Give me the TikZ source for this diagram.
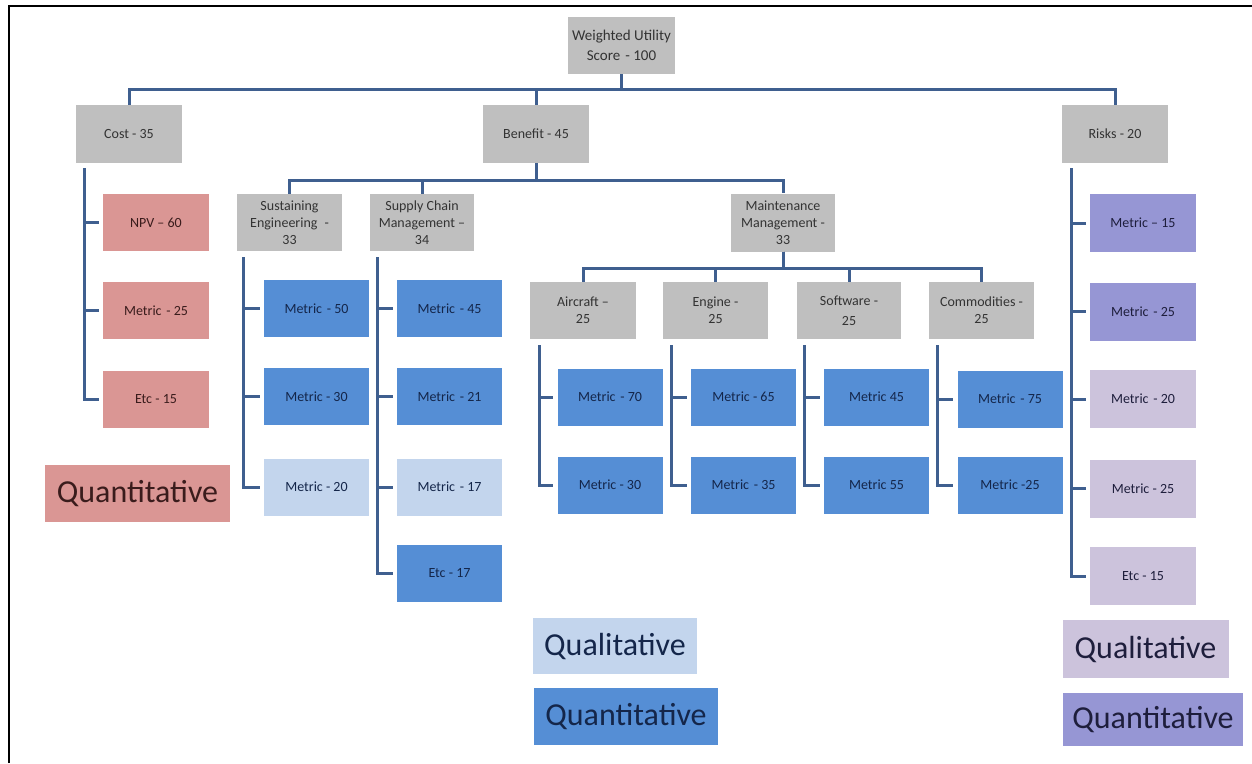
\documentclass[tikz,border=0pt]{standalone}
\usepackage{fontspec}
\setmainfont{Carlito}
\definecolor{boxgrey}{HTML}{BFBFBF}
\definecolor{greytext}{HTML}{333333}
\definecolor{costred}{HTML}{DA9694}
\definecolor{redtext}{HTML}{3A1C1C}
\definecolor{quantblue}{HTML}{558ED5}
\definecolor{qualblue}{HTML}{C3D5ED}
\definecolor{bluetext}{HTML}{14264A}
\definecolor{quantpurple}{HTML}{9696D4}
\definecolor{qualpurple}{HTML}{CCC3DC}
\definecolor{purpletext}{HTML}{1E1E3C}
\definecolor{linkblue}{HTML}{3F5F8F}
\begin{document}
\begin{tikzpicture}[x=1pt,y=-1pt,
  box/.style={inner sep=0pt, align=center, font=\fontsize{14}{17}\selectfont,
              minimum width=106pt, minimum height=57pt},
  grey/.style={box, fill=boxgrey, text=greytext},
  red/.style={box, fill=costred, text=redtext},
  qnb/.style={box, fill=quantblue, text=bluetext},
  qlb/.style={box, fill=qualblue, text=bluetext},
  qnp/.style={box, fill=quantpurple, text=purpletext},
  qlp/.style={box, fill=qualpurple, text=purpletext},
  legend/.style={font=\fontsize{32}{36}\selectfont, minimum height=57pt},
  link/.style={draw=linkblue, line width=3pt},
  tick/.style={link, shorten >=4pt},
]
\useasboundingbox[fill=white] (0,0) rectangle (1252,763);
% frame along the top and left edges
\draw[line width=2pt] (9,763) -- (9,5.5) -- (1252,5.5);

% root and first level
\node[grey, minimum width=107pt, font=\fontsize{15}{20}\selectfont] (top) at (621.5,45.5) {Weighted Utility\\Score\,\,- 100};
\node[grey, minimum height=58pt] (cost) at (129,134) {Cost - 35};
\node[grey, minimum height=58pt] (benefit) at (536,134) {Benefit - 45};
\node[grey, minimum height=58pt] (risks) at (1115,134) {Risks - 20};

\draw[link] (top.south) -- ++(0,15) -| (cost.north);
\draw[link] (top.south) -- ++(0,15) -| (benefit.north);
\draw[link] (top.south) -- ++(0,15) -| (risks.north);

% cost branch
\node[red] (npv) at (156,222.5) {NPV -- 60};
\node[red] (cm25) at (156,310.5) {Metric\,\,- 25};
\node[red] (cetc) at (156,399) {Etc - 15};
\coordinate (costL) at ([xshift=9pt,yshift=-5pt]cost.south west);
\foreach \c in {npv,cm25,cetc} \draw[tick] (costL) |- (\c.west);
\node[red, legend, minimum width=185pt] (legR) at (137.5,493.5) {Quantitative};

% benefit branch
\node[grey, minimum width=105pt] (sust) at (289.5,222.5) {Sustaining\\Engineering\,\,\,-\\33};
\node[grey, minimum width=104pt] (supply) at (422,222.5) {Supply Chain\\Management --\\34};
\node[grey, minimum width=104pt, minimum height=58pt] (maint) at (783,222.5) {Maintenance\\Management -\\33};
\draw[link] (benefit.south) -- ++(0,17) -| (sust.north);
\draw[link] (benefit.south) -- ++(0,17) -| (supply.north);
\draw[link] (benefit.south) -- ++(0,17) -| (maint.north);

\node[qnb, minimum width=105pt] (s50) at (316.5,308.5) {Metric\,\,- 50};
\node[qnb, minimum width=105pt] (s30) at (316.5,396.5) {Metric - 30};
\node[qlb, minimum width=105pt] (s20) at (316.5,487) {Metric - 20};
\coordinate (sustL) at ([xshift=7pt,yshift=-6pt]sust.south west);
\foreach \c in {s50,s30,s20} \draw[tick] (sustL) |- (\c.west);

\node[qnb, minimum width=105pt] (p45) at (449.5,308.5) {Metric\,\,- 45};
\node[qnb, minimum width=105pt] (p21) at (449.5,396.5) {Metric\,\,- 21};
\node[qlb, minimum width=105pt] (p17) at (449.5,487) {Metric\,\,- 17};
\node[qnb, minimum width=105pt] (petc) at (449.5,573.5) {Etc - 17};
\coordinate (supplyL) at ([xshift=8pt,yshift=-6pt]supply.south west);
\foreach \c in {p45,p21,p17,petc} \draw[tick] (supplyL) |- (\c.west);

% maintenance sub-branches
\node[grey] (air) at (583,310.5) {Aircraft --\\25};
\node[grey, minimum width=105pt] (eng) at (715.5,310.5) {Engine -\\25};
\node[grey, minimum width=104pt] (soft) at (849,310.5) {Software -\\[3pt]25};
\node[grey, minimum width=105pt] (comm) at (981.5,310.5) {Commodities -\\25};
\foreach \c in {air,eng,soft,comm} \draw[link] (maint.south) -- ++(0,16.5) -| (\c.north);

\node[qnb, minimum width=105pt] (a70) at (610,397) {Metric\,\,- 70};
\node[qnb, minimum width=105pt] (a30) at (610,485) {Metric - 30};
\node[qnb, minimum width=105pt] (e65) at (743.5,397) {Metric - 65};
\node[qnb, minimum width=105pt] (e35) at (743.5,485) {Metric\,\,- 35};
\node[qnb, minimum width=105pt] (w45) at (876.5,397) {Metric 45};
\node[qnb, minimum width=105pt] (w55) at (876.5,485) {Metric 55};
\node[qnb, minimum width=105pt] (c75) at (1010,399) {Metric\,\,- 75};
\node[qnb, minimum width=105pt] (c25) at (1010,485) {Metric -25};
\coordinate (airL) at ([xshift=10pt,yshift=-6pt]air.south west);
\coordinate (engL) at ([xshift=9pt,yshift=-6pt]eng.south west);
\coordinate (softL) at ([xshift=8pt,yshift=-6pt]soft.south west);
\coordinate (commL) at ([xshift=9pt,yshift=-6pt]comm.south west);
\foreach \c in {a70,a30} \draw[tick] (airL) |- (\c.west);
\foreach \c in {e65,e35} \draw[tick] (engL) |- (\c.west);
\foreach \c in {w45,w55} \draw[tick] (softL) |- (\c.west);
\foreach \c in {c75,c25} \draw[tick] (commL) |- (\c.west);

\node[qlb, legend, minimum width=164pt, minimum height=56pt] (legQlB) at (615,646) {Qualitative};
\node[qnb, legend, minimum width=184pt] (legQnB) at (626,716.5) {Quantitative};

% risks branch
\node[qnp, minimum height=58pt] (r15) at (1143,223) {Metric -- 15};
\node[qnp, minimum height=58pt] (r25) at (1143,311.5) {Metric\,\,- 25};
\node[qlp, minimum height=58pt] (r20) at (1143,399) {Metric\,\,- 20};
\node[qlp, minimum height=58pt] (r25b) at (1143,488.5) {Metric - 25};
\node[qlp, minimum height=58pt] (retc) at (1143,576) {Etc - 15};
\coordinate (risksL) at ([xshift=10pt,yshift=-5pt]risks.south west);
\foreach \c in {r15,r25,r20,r25b,retc} \draw[tick] (risksL) |- (\c.west);

\node[qlp, legend, minimum width=166pt, minimum height=58pt] (legQlP) at (1145.5,649) {Qualitative};
\node[qnp, legend, minimum width=180pt, minimum height=53pt] (legQnP) at (1153,719.5) {Quantitative};
\end{tikzpicture}
\end{document}
